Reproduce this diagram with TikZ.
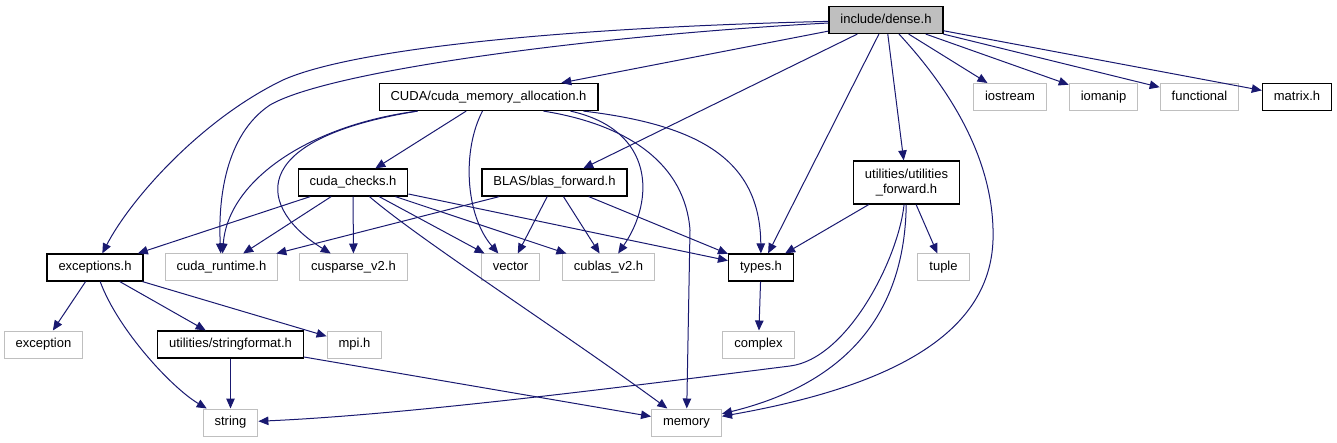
\documentclass[tikz,border=0pt]{standalone}
\usepackage{fontspec}
\newfontfamily\dxfont{Liberation Sans}
\usetikzlibrary{arrows.meta,calc}
\definecolor{edgeblue}{HTML}{191970}
\definecolor{sysgray}{HTML}{BFBFBF}
\tikzset{
  filebox/.style={draw=black, line width=1.2pt, font=\dxfont\fontsize{13}{15}\selectfont,
    inner xsep=11.5pt, inner ysep=0pt, minimum height=27pt},
  doc/.style={filebox, text height=9.4pt, text depth=2.8pt},
  sys/.style={doc, draw=sysgray, line width=1pt},
  doctwo/.style={filebox, align=center, minimum height=43pt},
  edge/.style={draw=edgeblue, line width=1pt, -{Triangle[length=10pt,width=8.5pt]}}
}
\begin{document}
\begin{tikzpicture}[x=1pt,y=-1pt]
        \useasboundingbox (0,0) rectangle (1337,443);

        % headers
        \node[doc, fill=sysgray] (dense) at (886,20) {include/dense.h};
        \node[doc] (cma) at (488.5,97) {CUDA/cuda\_memory\_allocation.h};
        \node[sys] (iostream) at (1010,97) {iostream};
        \node[sys] (iomanip) at (1103.5,97) {iomanip};
        \node[sys] (functional) at (1199.5,97) {functional};
        \node[doc] (matrix) at (1297,97) {matrix.h};
        \node[doc] (checks) at (353,182.5) {cuda\_checks.h};
        \node[doc] (blasfwd) at (554.5,182.5) {BLAS/blas\_forward.h};
        \node[doctwo] (utilfwd) at (906.5,182.5) {utilities/utilities\\\_forward.h};
        \node[doc] (exc) at (95,267.5) {exceptions.h};
        \node[sys] (runtime) at (221.5,267.5) {cuda\_runtime.h};
        \node[sys] (sparse) at (353.5,267.5) {cusparse\_v2.h};
        \node[sys] (vector) at (510.5,267.5) {vector};
        \node[sys] (cublas) at (608.5,267.5) {cublas\_v2.h};
        \node[doc] (types) at (761,267.5) {types.h};
        \node[sys] (tuple) at (943.5,267.5) {tuple};
        \node[sys] (exception) at (43.5,344.5) {exception};
        \node[doc] (strfmt) at (230.5,344.5) {utilities/stringformat.h};
        \node[sys] (mpi) at (354.5,344.5) {mpi.h};
        \node[sys] (complex) at (758.5,344.5) {complex};
        \node[sys] (string) at (230.5,422.5) {string};
        \node[sys] (memory) at (686.5,422.5) {memory};

        % include/dense.h
        \draw[edge] (dense) .. controls (550,28) and (350,50) .. (283,80) .. controls (200,120) and (130,200) .. (exc);
        \draw[edge] (dense) .. controls (600,35) and (330,70) .. (270,105) .. controls (225,135) and (218,200) .. (runtime);
        \draw[edge] (dense) .. controls (960,100) and (995,170) .. (993,240) .. controls (990,330) and (900,385) .. (memory);
        \foreach \t in {cma,blasfwd,types,utilfwd,iostream,iomanip,functional,matrix}
            \draw[edge] (dense) -- (\t);

        % CUDA/cuda_memory_allocation.h
        \draw[edge] (cma) -- (checks);
        \draw[edge] ($(cma.south)+(-71,0)$) .. controls (310,125) and (228,180) .. (runtime);
        \draw[edge] ($(cma.south)+(-71,0)$) .. controls (240,140) and (260,210) .. (sparse);
        \draw[edge] ($(cma.south)+(-6,0)$) .. controls (462,150) and (465,215) .. (vector);
        \draw[edge] ($(cma.south)+(55,0)$) .. controls (630,125) and (685,165) .. (690,230) -- (memory);
        \draw[edge] ($(cma.south)+(82,0)$) .. controls (655,130) and (655,200) .. (cublas);
        \draw[edge] ($(cma.south)+(95,0)$) .. controls (700,125) and (760,160) .. (types);

        % cuda_checks.h
        \foreach \t in {exc,runtime,sparse,vector,cublas,types}
            \draw[edge] (checks) -- (\t);
        \draw[edge] (checks) .. controls (420,240) and (560,330) .. (memory);

        % BLAS/blas_forward.h
        \foreach \t in {runtime,vector,cublas,types}
            \draw[edge] (blasfwd) -- (\t);

        % utilities/utilities_forward.h
        \draw[edge] (utilfwd) -- (types);
        \draw[edge] (utilfwd) -- (tuple);
        \draw[edge] (utilfwd) .. controls (898,260) and (847,359) .. (790,366) .. controls (600,390) and (400,415) .. (string);
        \draw[edge] (utilfwd) .. controls (905,300) and (860,380) .. (memory);

        % exceptions.h
        \draw[edge] (exc) -- (exception);
        \draw[edge] (exc) .. controls (118,330) and (172,388) .. (string);
        \draw[edge] (exc) -- (strfmt);
        \draw[edge] (exc) -- (mpi);

        % utilities/stringformat.h, types.h
        \draw[edge] (strfmt) -- (string);
        \draw[edge] (strfmt) -- (memory);
        \draw[edge] (types) -- (complex);
    \end{tikzpicture}
\end{document}
